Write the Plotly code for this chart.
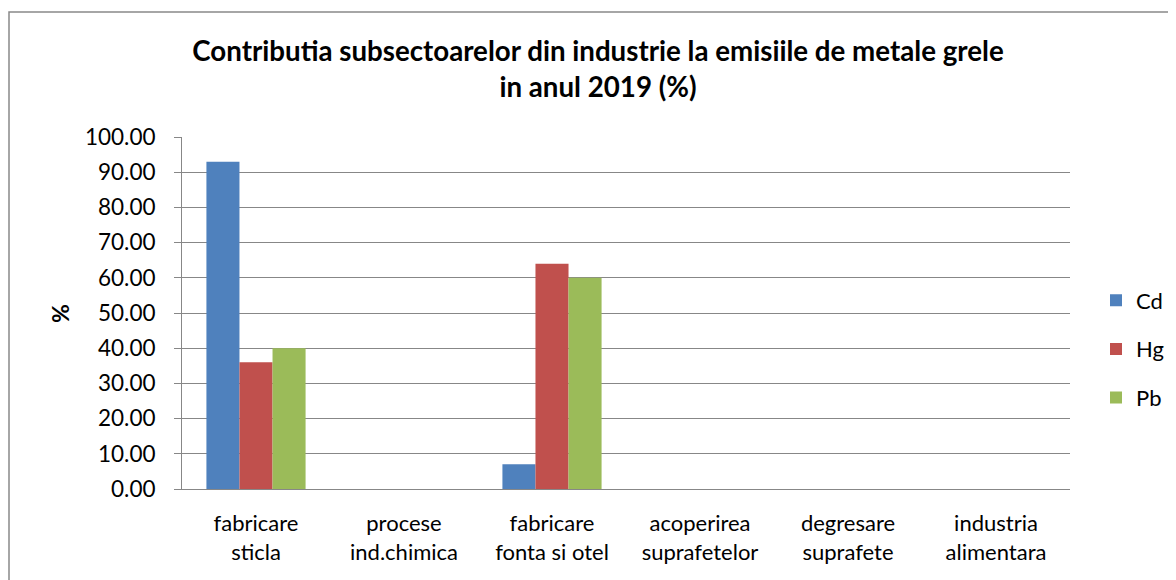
import plotly.graph_objects as go

categories = ["fabricare<br>sticla", "procese<br>ind.chimica", "fabricare<br>fonta si otel",
              "acoperirea<br>suprafetelor", "degresare<br>suprafete", "industria<br>alimentara"]
cd = [93.0, 0, 7.0, 0, 0, 0]
hg = [36.0, 0, 64.0, 0, 0, 0]
pb = [40.0, 0, 60.0, 0, 0, 0]
series = [("Cd", cd, "#4F81BD"), ("Hg", hg, "#C0504D"), ("Pb", pb, "#9BBB59")]
y_ticks = [0, 10, 20, 30, 40, 50, 60, 70, 80, 90, 100]

FONT = "Lato"
W, H = 1168, 572
L, T, PW, PH = 174, 129, 888, 352
fig = go.Figure()
for i, (name, vals, col) in enumerate(series):
    fig.add_trace(go.Bar(name=name, x=categories, y=vals, marker_color=col,
                         marker_line_width=0, legendgroup=name))

fig.update_layout(
    width=W, height=H,
    margin=dict(l=L, r=W - L - PW, t=T, b=H - T - PH, autoexpand=False),
    paper_bgcolor="white", plot_bgcolor="white",
    barmode="group", bargap=0.33, bargroupgap=0,
    font=dict(family=FONT, color="black", size=22),
    title=dict(text="<b>Contributia subsectoarelor din industrie la emisiile de metale grele<br>in anul 2019 (%)</b>",
               x=(598 - 8) / W, xanchor="center", y=1 - 53 / H, yanchor="middle",
               font=dict(family=FONT, size=27.7, color="black")),
    legend=dict(x=(1096 - 8 - L) / PW, xanchor="left", y=(489 - 349) / PH, yanchor="middle",
                font=dict(family=FONT, size=22), tracegroupgap=17, itemwidth=30,
                bgcolor="rgba(0,0,0,0)"),
    showlegend=True,
)
fig.update_yaxes(range=[0, 100], tickvals=y_ticks, tickformat=".2f",
                 showgrid=True, gridcolor="#878787", gridwidth=1,
                 showline=True, linecolor="#878787", linewidth=1,
                 ticks="outside", ticklen=7, tickcolor="#878787",
                 ticklabelstandoff=14,
                 tickfont=dict(family=FONT, size=22.5), zeroline=False)
fig.update_xaxes(showline=True, linecolor="#878787", linewidth=1,
                 tickfont=dict(family=FONT, size=22), ticks="outside",
                 ticklen=15, tickcolor="rgba(0,0,0,0)")
fig.add_annotation(text="<b>%</b>", x=(60 - 8 - L) / PW, y=0.5, xref="paper", yref="paper",
                   xanchor="center", yanchor="middle",
                   textangle=-90, showarrow=False, font=dict(family=FONT, size=23))
fig.add_shape(type="rect", xref="paper", yref="paper",
              x0=(1 - L) / PW, x1=1.3, y0=-0.5, y1=1 + (T - 4) / PH,
              line=dict(color="#898989", width=1.5), layer="below")
fig.write_html("out.html")
